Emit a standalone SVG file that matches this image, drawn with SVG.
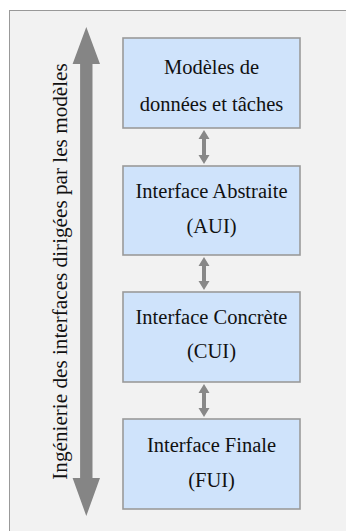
<svg xmlns="http://www.w3.org/2000/svg" width="346" height="531" viewBox="0 0 346 531">
<style>
.box{fill:#cfe3fb;stroke:#9a9a9a;stroke-width:1.6}
.t{font-size:20.5px;fill:#111;text-anchor:middle}
.arr{fill:#888}
</style>
<rect width="346" height="531" fill="#fff"/>
<rect x="9.5" y="10.5" width="345" height="530" fill="#f2f2f2" stroke="#999" stroke-width="1"/>
<g id="connectors">
<path d="M86.3 27 L100 64 L92.5 64 L92.5 478 L100 478 L86.3 516 L72.6 478 L80.1 478 L80.1 64 L72.6 64 Z" fill="#858585"/>
<path class="arr" d="M204 130 L209.5 139 L206 139 L206 155 L209.5 155 L204 164 L198.5 155 L202 155 L202 139 L198.5 139 Z"/>
<path class="arr" d="M204 257 L209.5 266 L206 266 L206 281 L209.5 281 L204 290 L198.5 281 L202 281 L202 266 L198.5 266 Z"/>
<path class="arr" d="M204 384 L209.5 393 L206 393 L206 408 L209.5 408 L204 417 L198.5 408 L202 408 L202 393 L198.5 393 Z"/>
</g>
<g font-family="Liberation Serif, DejaVu Serif, serif">
<g id="label-axis">
<text class="t" style="font-size:21.2px" transform="translate(67 271.5) rotate(-90)" x="0" y="0">Ingénierie des interfaces dirigées par les modèles</text>
</g>
<g id="n1">
<rect class="box" x="123" y="38" width="177" height="90"/>
<text class="t" x="211.5" y="74">Modèles de</text>
<text class="t" x="211.5" y="111">données et tâches</text>
</g>
<g id="n2">
<rect class="box" x="123" y="166" width="177" height="89"/>
<text class="t" x="211.5" y="198">Interface Abstraite</text>
<text class="t" x="211.5" y="233">(AUI)</text>
</g>
<g id="n3">
<rect class="box" x="123" y="292" width="177" height="90"/>
<text class="t" x="211.5" y="324">Interface Concrète</text>
<text class="t" x="211.5" y="358">(CUI)</text>
</g>
<g id="n4">
<rect class="box" x="123" y="419" width="177" height="90"/>
<text class="t" x="211.5" y="452">Interface Finale</text>
<text class="t" x="211.5" y="487">(FUI)</text>
</g>
</g>
</svg>
